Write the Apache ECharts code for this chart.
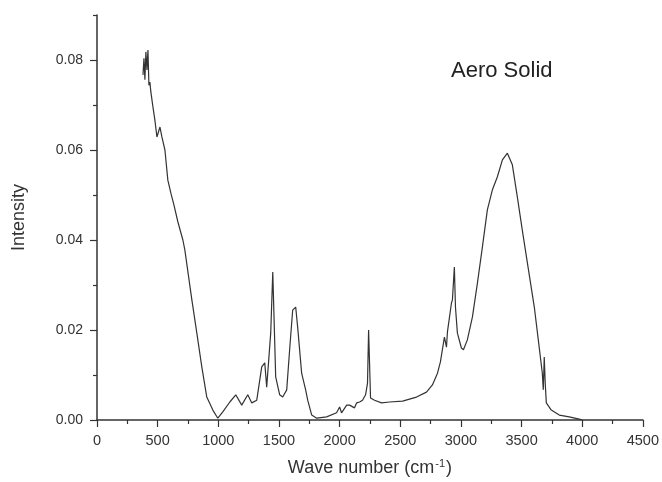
<!DOCTYPE html>
<html>
<head>
<meta charset="utf-8">
<script src="https://cdn.jsdelivr.net/npm/echarts@6/dist/echarts.min.js"></script>
<style>
  html, body { margin: 0; padding: 0; background: #fff; }
  #chart { width: 662px; height: 482px; }
</style>
</head>
<body>
<div id="chart"></div>
<script>
// spectrum
var waveNumbers = [379, 387, 395, 403, 412, 420, 428, 436, 444, 461, 477, 494, 519, 535, 560, 584, 609, 634, 667, 708, 724, 782, 823, 864, 905, 955, 996, 1037, 1095, 1144, 1193, 1243, 1276, 1317, 1358, 1383, 1399, 1432, 1449, 1473, 1506, 1531, 1564, 1588, 1613, 1638, 1654, 1687, 1720, 1737, 1770, 1811, 1893, 1975, 2000, 2016, 2058, 2082, 2123, 2140, 2165, 2189, 2214, 2230, 2239, 2255, 2288, 2346, 2411, 2519, 2634, 2716, 2765, 2807, 2831, 2856, 2864, 2881, 2889, 2922, 2930, 2946, 2955, 2971, 3004, 3021, 3053, 3095, 3136, 3177, 3218, 3259, 3300, 3342, 3383, 3424, 3465, 3506, 3547, 3605, 3638, 3671, 3679, 3687, 3695, 3704, 3745, 3811, 3893, 3975, 4000];
var intensity = [0.0767, 0.0804, 0.0756, 0.0818, 0.0778, 0.0822, 0.0744, 0.0751, 0.0729, 0.0696, 0.0667, 0.0629, 0.0651, 0.0629, 0.0600, 0.0533, 0.0504, 0.0478, 0.0440, 0.0400, 0.0378, 0.0267, 0.0193, 0.0118, 0.0051, 0.0022, 0.0004, 0.0018, 0.0040, 0.0056, 0.0033, 0.0056, 0.0038, 0.0044, 0.0118, 0.0127, 0.0073, 0.0193, 0.0329, 0.0096, 0.0056, 0.0051, 0.0067, 0.0156, 0.0244, 0.0251, 0.0207, 0.0104, 0.0067, 0.0044, 0.0011, 0.0004, 0.0007, 0.0016, 0.0029, 0.0016, 0.0033, 0.0033, 0.0027, 0.0038, 0.0040, 0.0044, 0.0056, 0.0082, 0.0200, 0.0049, 0.0044, 0.0038, 0.0040, 0.0042, 0.0051, 0.0062, 0.0078, 0.0104, 0.0129, 0.0171, 0.0184, 0.0162, 0.0196, 0.0260, 0.0267, 0.0340, 0.0251, 0.0193, 0.0160, 0.0156, 0.0178, 0.0229, 0.0304, 0.0384, 0.0467, 0.0511, 0.0540, 0.0578, 0.0593, 0.0567, 0.0496, 0.0422, 0.0351, 0.0251, 0.0178, 0.0104, 0.0067, 0.0140, 0.0082, 0.0038, 0.0022, 0.0011, 0.0007, 0.0002, 0.0000];
var yMajorTicks = [0, 0.02, 0.04, 0.06, 0.08];
var yMinorTicks = [0.01, 0.03, 0.05, 0.07, 0.09];

var font = 'Liberation Sans, Arial, sans-serif';
var ink = '#333';

var pts = [];
for (var i = 0; i < waveNumbers.length; i++) {
    pts.push([waveNumbers[i], intensity[i]]);
}

var chart = echarts.init(document.getElementById('chart'));
var option = {
    animation: false,
    backgroundColor: '#fff',
    title: {
        text: 'Aero Solid',
        left: 446,
        top: 55,
        textStyle: { fontFamily: font, fontSize: 22, fontWeight: 'normal', color: '#222' }
    },
    grid: { left: 97, right: 18, top: 15, bottom: 62, containLabel: false },
    xAxis: {
        type: 'value',
        min: 0,
        max: 4500,
        interval: 500,
        name: 'Wave number (cm{sup|-1})',
        nameLocation: 'middle',
        nameGap: 38,
        nameTextStyle: {
            fontFamily: font, fontSize: 18, color: ink,
            rich: { sup: { fontFamily: font, fontSize: 11, color: ink, verticalAlign: 'top', padding: [0, 1, 9, 1] } }
        },
        axisLine: { lineStyle: { color: ink, width: 1.5 } },
        axisTick: { length: 7, lineStyle: { color: ink, width: 1.2 } },
        minorTick: { show: true, splitNumber: 2, length: 4, lineStyle: { color: ink, width: 1.2 } },
        axisLabel: {
            fontFamily: font, fontSize: 14.5, color: ink, margin: 13,
            formatter: function (v) { return String(v); }
        },
        splitLine: { show: false }
    },
    yAxis: [{
        type: 'value',
        min: 0,
        max: 0.09,
        name: 'Intensity',
        nameLocation: 'middle',
        nameGap: 69,
        nameTextStyle: { fontFamily: font, fontSize: 18, color: ink },
        axisLine: { show: true, lineStyle: { color: ink, width: 1.5 } },
        axisTick: { show: true, length: 7, customValues: yMajorTicks, lineStyle: { color: ink, width: 1.2 } },
        axisLabel: {
            customValues: yMajorTicks,
            fontFamily: font, fontSize: 14, color: ink, margin: 14,
            formatter: function (v) { return v.toFixed(2); }
        },
        splitLine: { show: false }
    }, {
        type: 'value',
        position: 'left',
        offset: 0,
        min: 0,
        max: 0.09,
        axisLine: { show: false },
        axisTick: { show: true, length: 4, customValues: yMinorTicks, lineStyle: { color: ink, width: 1.2 } },
        axisLabel: { show: false },
        splitLine: { show: false }
    }],
    series: [{
        type: 'line',
        data: pts,
        yAxisIndex: 0,
        showSymbol: false,
        smooth: false,
        sampling: false,
        lineStyle: { color: '#333', width: 1.2 }
    }]
};
chart.setOption(option);
</script>
</body>
</html>
